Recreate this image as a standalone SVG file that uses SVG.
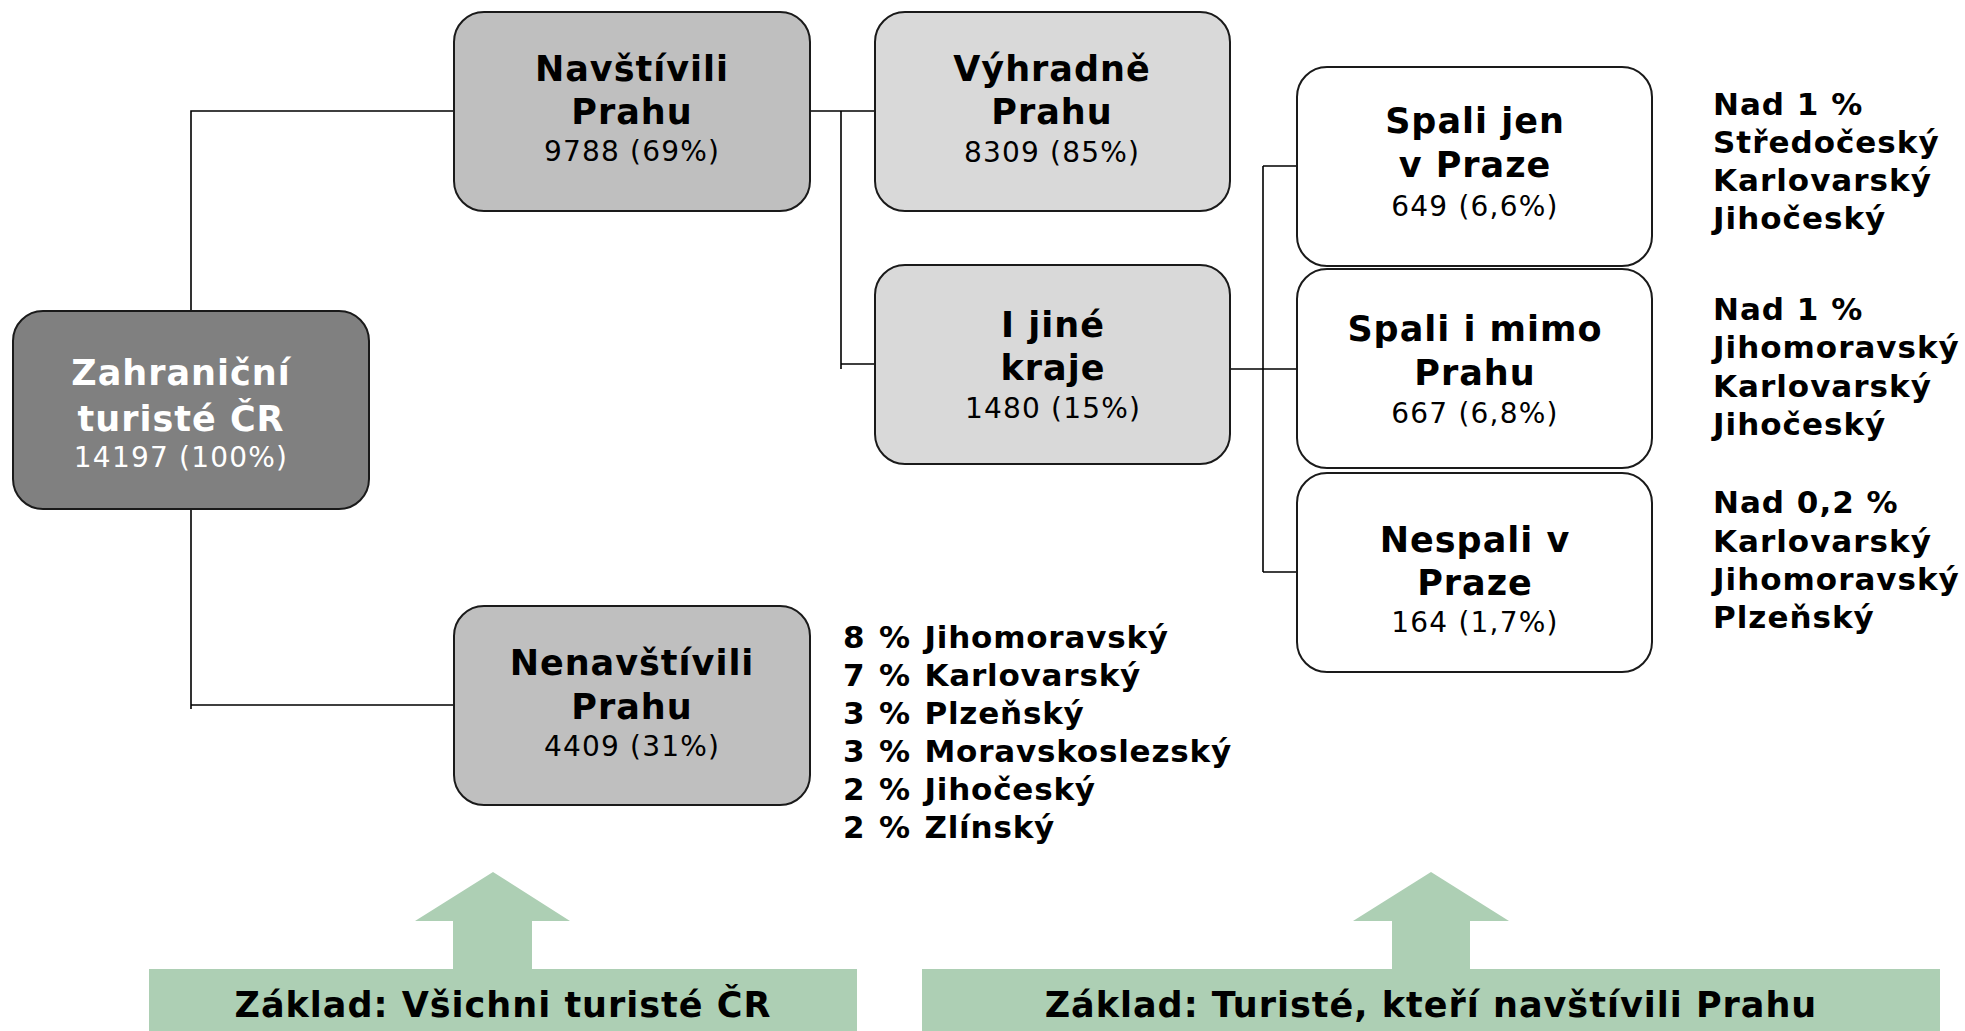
<svg xmlns="http://www.w3.org/2000/svg" width="1965" height="1031" viewBox="0 0 1965 1031">
<style>
text { font-family: "DejaVu Sans", Verdana, sans-serif; fill: #000; }
.t { font-size: 35px; font-weight: bold; letter-spacing: 1px; text-anchor: middle; }
.n { font-size: 28px; letter-spacing: 1.2px; text-anchor: middle; }
.w { fill: #fff; }
.s { font-size: 31px; font-weight: bold; letter-spacing: 1px; }
.l { word-spacing: 2px; letter-spacing: 0.8px; }
.b { font-size: 35px; font-weight: bold; letter-spacing: 1px; text-anchor: middle; }
.box { stroke: #1a1a1a; stroke-width: 2; }
.c { fill: none; stroke: #000; stroke-width: 1.6; }
.g { fill: #adcfb4; }
</style>
<g id="connectors">
<path class="c" d="M191 311 V111 H454"/>
<path class="c" d="M191 509 V709 M191 705 H454"/>
<path class="c" d="M810 111 H875"/>
<path class="c" d="M841 111 V369 M841 364 H875"/>
<path class="c" d="M1230 369 H1297"/>
<path class="c" d="M1263 166 V572 M1263 166 H1297 M1263 572 H1297"/>
</g>
<g id="root">
<rect class="box" x="13" y="311" width="356" height="198" rx="30" fill="#808080"/>
<text class="t w" x="181" y="385">Zahraniční</text>
<text class="t w" x="181" y="431">turisté ČR</text>
<text class="n w" x="181" y="467">14197 (100%)</text>
</g>
<g id="navstivili">
<rect class="box" x="454" y="12" width="356" height="199" rx="30" fill="#bfbfbf"/>
<text class="t" x="632" y="81">Navštívili</text>
<text class="t" x="632" y="124">Prahu</text>
<text class="n" x="632" y="161">9788 (69%)</text>
</g>
<g id="nenavstivili">
<rect class="box" x="454" y="606" width="356" height="199" rx="30" fill="#bfbfbf"/>
<text class="t" x="632" y="675">Nenavštívili</text>
<text class="t" x="632" y="719">Prahu</text>
<text class="n" x="632" y="756">4409 (31%)</text>
</g>
<g id="vyhradne">
<rect class="box" x="875" y="12" width="355" height="199" rx="30" fill="#d9d9d9"/>
<text class="t" x="1052" y="81">Výhradně</text>
<text class="t" x="1052" y="124">Prahu</text>
<text class="n" x="1052" y="162">8309 (85%)</text>
</g>
<g id="jine">
<rect class="box" x="875" y="265" width="355" height="199" rx="30" fill="#d9d9d9"/>
<text class="t" x="1053" y="337">I jiné</text>
<text class="t" x="1053" y="380">kraje</text>
<text class="n" x="1053" y="418">1480 (15%)</text>
</g>
<g id="spali-jen">
<rect class="box" x="1297" y="67" width="355" height="199" rx="30" fill="#fff"/>
<text class="t" x="1475" y="133">Spali jen</text>
<text class="t" x="1475" y="177">v Praze</text>
<text class="n" x="1475" y="216">649 (6,6%)</text>
</g>
<g id="spali-mimo">
<rect class="box" x="1297" y="269" width="355" height="199" rx="30" fill="#fff"/>
<text class="t" x="1475" y="341">Spali i mimo</text>
<text class="t" x="1475" y="385">Prahu</text>
<text class="n" x="1475" y="423">667 (6,8%)</text>
</g>
<g id="nespali">
<rect class="box" x="1297" y="473" width="355" height="199" rx="30" fill="#fff"/>
<text class="t" x="1475" y="552">Nespali v</text>
<text class="t" x="1475" y="595">Praze</text>
<text class="n" x="1475" y="632">164 (1,7%)</text>
</g>
<g id="side-1">
<text class="s" x="1713" y="115">Nad 1 %</text>
<text class="s" x="1713" y="153">Středočeský</text>
<text class="s" x="1713" y="191">Karlovarský</text>
<text class="s" x="1713" y="229">Jihočeský</text>
</g>
<g id="side-2">
<text class="s" x="1713" y="320">Nad 1 %</text>
<text class="s" x="1713" y="358">Jihomoravský</text>
<text class="s" x="1713" y="397">Karlovarský</text>
<text class="s" x="1713" y="435">Jihočeský</text>
</g>
<g id="side-3">
<text class="s" x="1713" y="513">Nad 0,2 %</text>
<text class="s" x="1713" y="552">Karlovarský</text>
<text class="s" x="1713" y="590">Jihomoravský</text>
<text class="s" x="1713" y="628">Plzeňský</text>
</g>
<g id="list">
<text class="s l" x="843" y="648">8 % Jihomoravský</text>
<text class="s l" x="843" y="686">7 % Karlovarský</text>
<text class="s l" x="843" y="724">3 % Plzeňský</text>
<text class="s l" x="843" y="762">3 % Moravskoslezský</text>
<text class="s l" x="843" y="800">2 % Jihočeský</text>
<text class="s l" x="843" y="838">2 % Zlínský</text>
</g>
<g id="base-all">
<polygon class="g" points="493,872 570,921 532,921 532,970 453,970 453,921 415,921"/>
<rect class="g" x="149" y="969" width="708" height="62"/>
<text class="b" x="503" y="1017">Základ: Všichni turisté ČR</text>
</g>
<g id="base-praha">
<polygon class="g" points="1431,872 1509,921 1470,921 1470,970 1392,970 1392,921 1353,921"/>
<rect class="g" x="922" y="969" width="1018" height="62"/>
<text class="b" x="1431" y="1017">Základ: Turisté, kteří navštívili Prahu</text>
</g>
</svg>
